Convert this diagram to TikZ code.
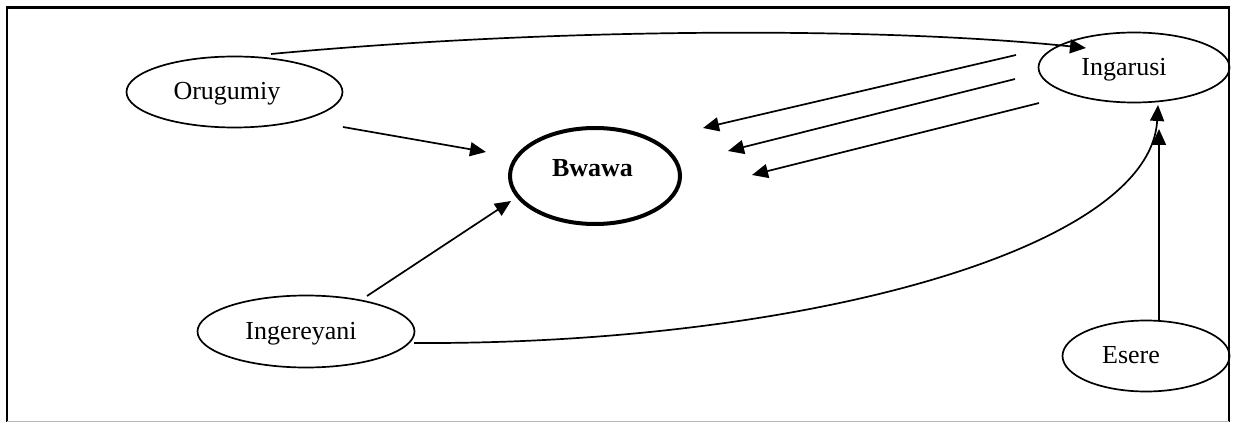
\documentclass[tikz,border=0pt]{standalone}
\usepackage{fontspec}
\setmainfont{Liberation Serif}
\usetikzlibrary{arrows.meta,shapes.geometric}
\begin{document}
\begin{tikzpicture}[x=1pt,y=-1pt,
  oval/.style={draw,ellipse,line width=1.7pt,inner sep=0pt},
  lbl/.style={font=\fontsize{26}{30}\selectfont,anchor=base,inner sep=0pt},
  conn/.style={line width=1.7pt,-{Triangle[length=16pt,width=14pt]}}]
\useasboundingbox (0,0) rectangle (1233,422);
% frame
\draw[line width=2.2pt] (7,423) -- (7,7.5) -- (1229,7.5) -- (1229,423);
\draw[line width=1pt,color=black!28] (7,421) -- (1229,421);
% nodes
\node[oval,minimum width=216,minimum height=71] (oru) at (234.5,92) {};
\node[lbl] (orut) at (227,100) {Orugumiy};
\node[oval,minimum width=191,minimum height=70] (inga) at (1134,67.5) {};
\node[lbl] (ingat) at (1124,76) {Ingarusi};
\node[oval,minimum width=167,minimum height=71] (es) at (1146,356) {};
\node[lbl] (est) at (1131,363) {Esere};
\node[oval,minimum width=217,minimum height=72] (ingr) at (306,331.5) {};
\node[lbl] (ingrt) at (301,339) {Ingereyani};
\node[draw,ellipse,line width=4pt,inner sep=0pt,minimum width=170,minimum height=96] (bw) at (595,176) {};
\node[lbl,font=\fontsize{26}{30}\selectfont\bfseries] (bwt) at (592.5,177) {Bwawa};
% coordinates
\coordinate (a1s) at (271,54);
\coordinate (a1e) at (1086,48);
\coordinate (a2s) at (343,127);
\coordinate (a2e) at (486,152);
\coordinate (a3s) at (367,296);
\coordinate (a3e) at (511,201);
\coordinate (b1s) at (1016,55);
\coordinate (b1e) at (703,128);
\coordinate (b2s) at (1015,79);
\coordinate (b2e) at (728,151);
\coordinate (b3s) at (1039,103);
\coordinate (b3e) at (752,175);
\coordinate (c1s) at (414,343);
\coordinate (c1e) at (1158,105);
\coordinate (d1s) at (1159,320);
\coordinate (d1e) at (1159,129);
% connectors
\draw[conn] (a1s) .. controls (560,27) and (884,27) .. (a1e);
\draw[conn] (a2s) -- (a2e);
\draw[conn] (a3s) -- (a3e);
\draw[conn] (b1s) -- (b1e);
\draw[conn] (b2s) -- (b2e);
\draw[conn] (b3s) -- (b3e);
\draw[conn] (c1s) .. controls (800,345) and (1150,250) .. (c1e);
\draw[conn] (d1s) -- (d1e);
\end{tikzpicture}
\end{document}
